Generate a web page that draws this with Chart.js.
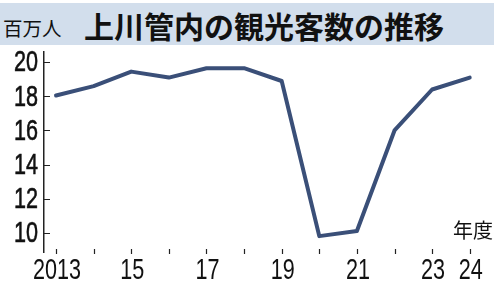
<!DOCTYPE html>
<html>
<head>
<meta charset="utf-8">
<script src="https://cdn.jsdelivr.net/npm/chart.js@4/dist/chart.umd.min.js"></script>
<style>
  html, body { margin: 0; padding: 0; background: #fff; }
  #wrap { position: relative; width: 500px; height: 298px; overflow: hidden; }
  #band { position: absolute; left: 0; top: 3px; width: 494px; height: 42px; background: #d2deec; }
  .txt { position: absolute; white-space: nowrap; color: #111; font-family: "Noto Sans CJK JP", sans-serif; }
  #unit { left: 3px; top: 15px; font-size: 19.5px; line-height: 26px; }
  #title { left: 84px; top: 6px; font-size: 30px; line-height: 38px; font-weight: 700; }
  #xunit { left: 453px; top: 217px; font-size: 20px; line-height: 26px; }
  canvas { position: absolute; left: 0; top: 0; }
</style>
</head>
<body>
<div id="wrap">
  <div id="band"></div>
  <div class="txt" id="unit">百万人</div>
  <div class="txt" id="title">上川管内の観光客数の推移</div>
  <canvas id="c" width="500" height="298"></canvas>
  <div class="txt" id="xunit">年度</div>
</div>
<script>
// 年度と観光客数（百万人）
const years = [2013, 2014, 2015, 2016, 2017, 2018, 2019, 2020, 2021, 2022, 2023, 2024]
const visitors = [18.05, 18.6, 19.45, 19.1, 19.65, 19.65, 18.9, 9.8, 10.1, 16.0, 18.4, 19.1]
const xTickLabels = ['2013', '', '15', '', '17', '', '19', '', '21', '', '23', '24']
const yTicks = [10, 12, 14, 16, 18, 20]

const ink = '#222'
const lineColor = '#3a4f78'
const squeeze = 0.72

// 目盛り線（内向き）と縦長の数字ラベル
const axisDeco = {
  id: 'axisDeco',
  afterDraw(chart) {
    const ctx = chart.ctx
    const x = chart.scales.x, y = chart.scales.y
    const area = chart.chartArea
    ctx.save()
    ctx.strokeStyle = ink
    ctx.lineWidth = 1.2
    ctx.beginPath()
    y.ticks.forEach(t => {
      const py = Math.round(y.getPixelForValue(t.value)) + 0.5
      ctx.moveTo(area.left, py)
      ctx.lineTo(area.left + 6, py)
    })
    x.ticks.forEach(t => {
      const px = Math.round(x.getPixelForValue(t.value)) + 0.5
      ctx.moveTo(px, area.bottom - 3)
      ctx.lineTo(px, area.bottom + 2)
    })
    ctx.stroke()

    ctx.fillStyle = '#111'
    ctx.textBaseline = 'middle'
    ctx.font = '30px "Liberation Sans", Arial, sans-serif'
    y.ticks.forEach(t => {
      const py = y.getPixelForValue(t.value) + 1
      ctx.save()
      ctx.translate(38, py)
      ctx.scale(squeeze, 1)
      ctx.textAlign = 'right'
      ctx.fillText(String(t.value), 0, 0)
      ctx.strokeStyle = '#111'
      ctx.lineWidth = 0.6
      ctx.strokeText(String(t.value), 0, 0)
      ctx.restore()
    })
    x.ticks.forEach((t, i) => {
      const label = xTickLabels[i]
      if (!label) return
      const px = x.getPixelForValue(t.value) + 1
      ctx.save()
      ctx.translate(px, 271)
      ctx.scale(squeeze, 1)
      ctx.textAlign = 'center'
      ctx.fillText(label, 0, 0)
      ctx.restore()
    })
    ctx.restore()
  }
}

new Chart(document.getElementById('c'), {
  type: 'line',
  data: {
    datasets: [{
      data: years.map((yr, i) => ({ x: yr, y: visitors[i] })),
      borderColor: lineColor,
      borderWidth: 4,
      pointRadius: 0,
      tension: 0,
      borderJoinStyle: 'round',
      borderCapStyle: 'round'
    }]
  },
  options: {
    responsive: false,
    animation: false,
    devicePixelRatio: 1,
    layout: { padding: { top: 52, right: 19, left: 0, bottom: 0 } },
    plugins: { legend: { display: false }, tooltip: { enabled: false } },
    scales: {
      x: {
        type: 'linear',
        min: 2012.68,
        max: 2024.3,
        afterBuildTicks: s => { s.ticks = years.map(v => ({ value: v })) },
        afterFit: s => { s.height = 46 },
        grid: { display: false, drawTicks: false },
        border: { display: false },
        ticks: { display: false }
      },
      y: {
        min: 8.87,
        max: 20.6,
        afterBuildTicks: s => { s.ticks = yTicks.map(v => ({ value: v })) },
        afterFit: s => { s.width = 44 },
        grid: { display: false, drawTicks: false },
        border: { display: true, color: ink, width: 1.5 },
        ticks: { display: false }
      }
    }
  },
  plugins: [axisDeco]
})
</script>
</body>
</html>
